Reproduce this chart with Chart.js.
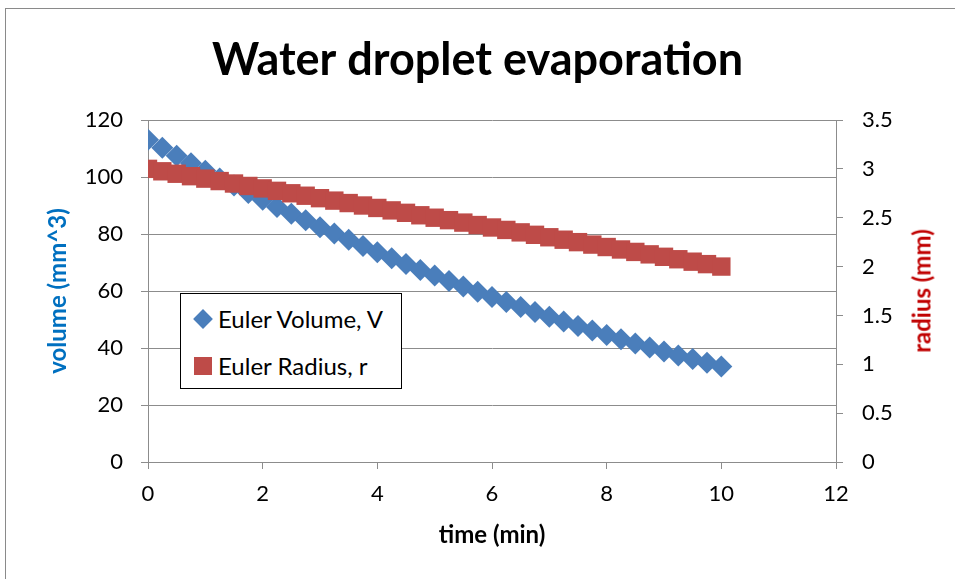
<!DOCTYPE html>
<html>
<head>
<meta charset="utf-8">
<title>Water droplet evaporation</title>
<script src="https://cdn.jsdelivr.net/npm/chart.js@4.4.1/dist/chart.umd.min.js"></script>
<style>
  body { margin: 0; width: 955px; height: 579px; overflow: hidden; background: #fff; font-family: Lato, sans-serif; }
  #frame { position: absolute; left: 5px; top: 8px; width: 1000px; height: 700px; border: 1px solid #8a8a8a; }
  #chart { position: absolute; left: 0; top: 0; }
  #radius-title { position: absolute; left: 921px; top: 291px; transform: translate(-50%, -50%) rotate(-90deg);
    white-space: nowrap; font-weight: bold; font-size: 24px; color: #C00000; }
  #legend { position: absolute; left: 180px; top: 293px; width: 220px; height: 94px; border: 1px solid #000; background: #fff; }
  .row { position: absolute; left: 0; height: 28px; line-height: 28px; font-size: 24px; color: #000; }
  .row span { position: absolute; left: 37px; white-space: nowrap; }
  .diamond { position: absolute; left: 15px; top: 7px; width: 14px; height: 14px; background: #4A7EBB; transform: rotate(45deg); }
  .square { position: absolute; left: 13px; top: 5px; width: 18px; height: 18px; background: #BE4B48; }
</style>
</head>
<body>
<div id="frame"></div>
<canvas id="chart" width="955" height="579"></canvas>
<div id="radius-title">radius (mm)</div>
<div id="legend">
  <div class="row" style="top:11px"><div class="diamond"></div><span>Euler Volume, V</span></div>
  <div class="row" style="top:58px"><div class="square"></div><span>Euler Radius, r</span></div>
</div>
<script>
// time steps (min)
const times = [0, 0.25, 0.5, 0.75, 1, 1.25, 1.5, 1.75, 2, 2.25, 2.5, 2.75, 3, 3.25, 3.5, 3.75,
  4, 4.25, 4.5, 4.75, 5, 5.25, 5.5, 5.75, 6, 6.25, 6.5, 6.75, 7, 7.25, 7.5, 7.75,
  8, 8.25, 8.5, 8.75, 9, 9.25, 9.5, 9.75, 10]

// volume (mm^3)
const volumes = [113.1, 110.3, 107.5, 104.8, 102.2, 99.5, 97.0, 94.4, 92.0, 89.5, 87.1, 84.8,
  82.4, 80.2, 78.0, 75.8, 73.6, 71.5, 69.5, 67.4, 65.4, 63.5, 61.6, 59.7, 57.9, 56.1,
  54.4, 52.6, 51.0, 49.3, 47.7, 46.1, 44.6, 43.1, 41.6, 40.2, 38.8, 37.4, 36.1, 34.8, 33.5]

// radius (mm)
const radii = [3.0, 2.975, 2.95, 2.925, 2.9, 2.875, 2.85, 2.825, 2.8, 2.775, 2.75, 2.725,
  2.7, 2.675, 2.65, 2.625, 2.6, 2.575, 2.55, 2.525, 2.5, 2.475, 2.45, 2.425, 2.4, 2.375,
  2.35, 2.325, 2.3, 2.275, 2.25, 2.225, 2.2, 2.175, 2.15, 2.125, 2.1, 2.075, 2.05, 2.025, 2.0]

const seriesNames = ['Euler Volume, V', 'Euler Radius, r']

const gridGray = '#8c8c8c'
const tickFont = { family: 'Lato', size: 22 }
const axisTitleFont = { family: 'Lato', size: 24, weight: 'bold', lineHeight: 1.2 }

const volumePoints = times.map((t, i) => ({ x: t, y: volumes[i] }))
const radiusPoints = times.map((t, i) => ({ x: t, y: radii[i] }))

new Chart(document.getElementById('chart'), {
  type: 'scatter',
  data: {
    datasets: [{
      label: seriesNames[0],
      data: volumePoints,
      yAxisID: 'yV',
      pointStyle: 'rectRot',
      pointRadius: 11,
      backgroundColor: '#4A7EBB',
      borderWidth: 0,
      order: 2
    }, {
      label: seriesNames[1],
      data: radiusPoints,
      yAxisID: 'yR',
      pointStyle: 'rect',
      pointRadius: 13,
      backgroundColor: '#BE4B48',
      borderWidth: 0,
      order: 1
    }]
  },
  options: {
    responsive: false,
    animation: false,
    layout: { padding: { left: 10, right: 10, top: 0, bottom: 10 } },
    plugins: {
      legend: { display: false },
      tooltip: { enabled: false },
      title: {
        display: true,
        text: 'Water droplet evaporation',
        color: '#000',
        font: { family: 'Lato', size: 45, weight: 'bold', lineHeight: 1.2 },
        padding: { top: 33, bottom: 33 }
      }
    },
    scales: {
      x: {
        type: 'linear',
        min: 0, max: 12,
        ticks: { stepSize: 2, color: '#000', font: tickFont, padding: 12 },
        grid: { drawOnChartArea: false, color: gridGray, tickLength: 7 },
        border: { color: gridGray },
        title: { display: true, text: 'time (min)', color: '#000',
          font: axisTitleFont, padding: { top: 0, bottom: 19 } },
        afterFit: s => { s.height = 107 }
      },
      yV: {
        position: 'left',
        min: 0, max: 120,
        ticks: { stepSize: 20, color: '#000', font: tickFont, padding: 18 },
        grid: { color: gridGray, tickLength: 7 },
        border: { color: gridGray },
        title: { display: true, text: 'volume (mm^3)', color: '#0070C0',
          font: axisTitleFont, padding: { top: 34, bottom: 0 } },
        afterFit: s => { s.width = 138 }
      },
      yR: {
        position: 'right',
        min: 0, max: 3.5,
        ticks: { stepSize: 0.5, color: '#000', font: tickFont, padding: 19, callback: v => String(v) },
        grid: { drawOnChartArea: false, color: gridGray, tickLength: 7 },
        border: { color: gridGray },
        afterFit: s => { s.width = 109 }
      }
    }
  }
})
</script>
</body>
</html>
